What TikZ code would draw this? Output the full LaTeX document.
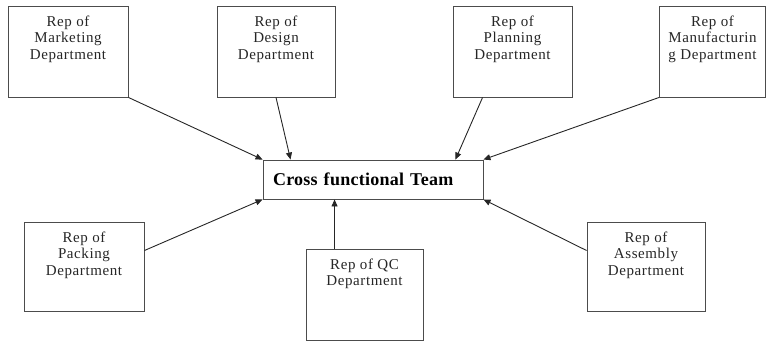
\documentclass[tikz,border=0pt]{standalone}
\usepackage{fontspec}
\setmainfont{Liberation Serif}
\usepackage{tikz}
\usetikzlibrary{arrows.meta,positioning}

\definecolor{boxline}{gray}{0.3}
\definecolor{inkgray}{gray}{0.15}
\newcommand{\repbox}[3]{\parbox[c][#2][t]{#1}{\centering\vspace*{9.5pt}#3}}

\begin{document}
\begin{tikzpicture}[x=1pt, y=-1pt,
	dept/.style={draw=boxline, line width=0.9pt, inner sep=0pt, text=inkgray,
		font=\fontsize{15}{16.5}\selectfont\addfontfeature{LetterSpace=4}},
	team/.style={draw=boxline, line width=0.9pt, text=black, minimum height=39pt,
		text width=200pt, align=left, inner xsep=10pt, inner ysep=0pt,
		font=\bfseries\fontsize{18}{20}\selectfont\addfontfeature{LetterSpace=1.5}},
	feed/.style={draw=inkgray, line width=0.9pt, -{Triangle[length=7pt,width=6pt]}}]
	\useasboundingbox (0,0) rectangle (767,341);
	
	% top row
	\node[dept] (mkt) at (68,51.5) {\repbox{120pt}{91pt}{Rep of\\ Marketing\\ Department}};
	\node[dept] (dsg) at (276,51.5) {\repbox{118pt}{91pt}{Rep of\\ Design\\ Department}};
	\node[dept] (pln) at (512.5,51.5) {\repbox{119pt}{91pt}{Rep of\\ Planning\\ Department}};
	\node[dept] (mfg) at (712.5,51.5) {\repbox{106pt}{91pt}{Rep of\\ Manufacturin\\ g Department}};
	
	% the team
	\node[team] (team) at (373,179.5) {Cross functional Team};
	
	% bottom row
	\node[dept] (pck) at (84,266.5) {\repbox{120pt}{89pt}{Rep of\\ Packing\\ Department}};
	\node[dept] (qc) at (364.5,294.5) {\repbox{117pt}{91pt}{Rep of QC\\ Department}};
	\node[dept] (asm) at (646,266.5) {\repbox{118pt}{89pt}{Rep of\\ Assembly\\ Department}};
	
	% arrows into the team
	\draw[feed] (mkt.south east) -- (team.north west);
	\draw[feed] (dsg.south) -- ([xshift=28pt]team.north west);
	\draw[feed] ([xshift=30pt]pln.south west) -- ([xshift=-28pt]team.north east);
	\draw[feed] (mfg.south west) -- (team.north east);
	\draw[feed] ([yshift=16pt]pck.east) -- (team.south west);
	\coordinate (qctop) at ([xshift=29pt]qc.north west);
	\draw[feed] (qctop) -- (qctop |- team.south);
	\draw[feed] ([yshift=16pt]asm.west) -- (team.south east);
\end{tikzpicture}
\end{document}
